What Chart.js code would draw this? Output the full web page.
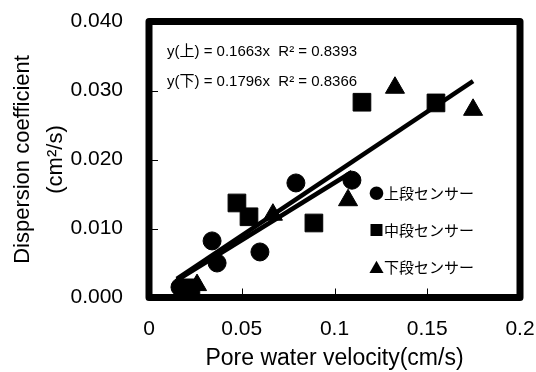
<!DOCTYPE html>
<html>
<head>
<meta charset="utf-8">
<script src="https://cdn.jsdelivr.net/npm/chart.js@4.4.1/dist/chart.umd.min.js"></script>
<style>
  html, body { margin: 0; padding: 0; background: #fff; }
</style>
</head>
<body>
<canvas id="chart" width="536" height="372"></canvas>
<script>
// Dispersion coefficient vs pore water velocity (3 sensor depths)

const seriesLabels = ['上段センサー', '中段センサー', '下段センサー'];
const legendSymbols = ['●', '■', '▲'];

// 上段センサー
const upperVel  = [0.0167, 0.0340, 0.0367, 0.0598, 0.0792, 0.1094];
const upperDisp = [0.0015, 0.0082, 0.0050, 0.0066, 0.0166, 0.0170];
// 中段センサー
const middleVel  = [0.0226, 0.0474, 0.0539, 0.0889, 0.1148, 0.1547];
const middleDisp = [0.0014, 0.0137, 0.0117, 0.0108, 0.0283, 0.0282];
// 下段センサー
const lowerVel  = [0.0259, 0.0668, 0.1073, 0.1326, 0.1747];
const lowerDisp = [0.0018, 0.0120, 0.0141, 0.0304, 0.0272];

// trend lines through origin: y = slope * x
const trendNames  = ['上', '下'];
const trendSlopes = [0.1663, 0.1796];
const trendR2     = [0.8393, 0.8366];
const trendFrom   = [0.015, 0.015];
const trendTo     = [0.1094, 0.1747];

const xTicks = [0, 0.05, 0.1, 0.15, 0.2];
const xTickLabels = ['0', '0.05', '0.1', '0.15', '0.2'];
const yTicks = [0, 0.01, 0.02, 0.03, 0.04];
const yTickLabels = ['0.000', '0.010', '0.020', '0.030', '0.040'];

const LATIN = '"Liberation Sans", Arial, "Noto Sans CJK JP", sans-serif';
const JP = '"Noto Sans CJK JP", "Liberation Sans", sans-serif';

Chart.defaults.color = '#000';

function points(xs, ys) {
    return xs.map((v, i) => ({ x: v, y: ys[i] }));
}

function trendLine(i) {
    return [
        { x: trendFrom[i], y: trendSlopes[i] * trendFrom[i] },
        { x: trendTo[i], y: trendSlopes[i] * trendTo[i] }
    ];
}

// keep label overhang from shrinking the plot area
function noScalePadding(scale) {
    scale.paddingTop = 0;
    scale.paddingBottom = 0;
    scale.paddingLeft = 0;
    scale.paddingRight = 0;
}

// thick frame + inward tick marks
const framePlugin = {
    id: 'frame',
    afterDatasetsDraw(chart) {
        const { ctx, chartArea: a, scales: { x, y } } = chart;
        ctx.save();
        ctx.strokeStyle = '#000';
        ctx.lineWidth = 1;
        ctx.beginPath();
        xTicks.forEach(v => {
            const px = Math.round(x.getPixelForValue(v)) + 0.5;
            ctx.moveTo(px, a.bottom);
            ctx.lineTo(px, a.bottom - 9);
        });
        yTicks.forEach(v => {
            const py = Math.round(y.getPixelForValue(v)) + 0.5;
            ctx.moveTo(a.left, py);
            ctx.lineTo(a.left + 9, py);
        });
        ctx.stroke();
        ctx.lineWidth = 7;
        ctx.lineJoin = 'round';
        ctx.strokeRect(a.left, a.top, a.right - a.left, a.bottom - a.top);
        ctx.restore();
    }
};

// equations and legend drawn inside the plot
const notesPlugin = {
    id: 'notes',
    afterDraw(chart) {
        const { ctx } = chart;
        ctx.save();
        ctx.fillStyle = '#000';
        ctx.textBaseline = 'middle';
        ctx.textAlign = 'left';

        ctx.font = '15px ' + LATIN;
        trendNames.forEach((n, i) => {
            const txt = 'y(' + n + ') = ' + trendSlopes[i] + 'x  R² = ' + trendR2[i];
            ctx.fillText(txt, 167, 52 + i * 30);
        });

        ctx.font = '15px ' + JP;
        seriesLabels.forEach((lab, i) => {
            ctx.fillText(legendSymbols[i] + lab, 369, 193 + i * 37);
        });
        ctx.restore();
    }
};

new Chart(document.getElementById('chart'), {
    type: 'scatter',
    data: {
        datasets: [
            {
                label: seriesLabels[0],
                data: points(upperVel, upperDisp),
                pointStyle: 'circle',
                pointRadius: 9,
                backgroundColor: '#000',
                borderColor: '#000'
            },
            {
                label: seriesLabels[1],
                data: points(middleVel, middleDisp),
                pointStyle: 'rect',
                pointRadius: 12.5,
                backgroundColor: '#000',
                borderColor: '#000'
            },
            {
                label: seriesLabels[2],
                data: points(lowerVel, lowerDisp),
                pointStyle: 'triangle',
                pointRadius: 11,
                backgroundColor: '#000',
                borderColor: '#000'
            },
            {
                type: 'line',
                label: 'y(' + trendNames[0] + ')',
                data: trendLine(0),
                borderColor: '#000',
                borderWidth: 4.5,
                pointRadius: 0,
                fill: false
            },
            {
                type: 'line',
                label: 'y(' + trendNames[1] + ')',
                data: trendLine(1),
                borderColor: '#000',
                borderWidth: 4.5,
                pointRadius: 0,
                fill: false
            }
        ]
    },
    options: {
        responsive: false,
        animation: false,
        layout: {
            padding: { top: 21.5, right: 16, left: 0, bottom: 0 }
        },
        plugins: {
            legend: { display: false },
            tooltip: { enabled: false }
        },
        scales: {
            x: {
                type: 'linear',
                min: 0,
                max: 0.2,
                afterBuildTicks(scale) {
                    scale.ticks = xTicks.map(v => ({ value: v }));
                },
                afterFit(scale) {
                    scale.height = 74.5;
                    noScalePadding(scale);
                },
                grid: { display: false, drawTicks: false },
                border: { display: false },
                ticks: {
                    padding: 19,
                    maxRotation: 0,
                    font: { family: LATIN, size: 21 },
                    callback: (v, i) => xTickLabels[i]
                },
                title: {
                    display: true,
                    text: 'Pore water velocity(cm/s)',
                    font: { family: LATIN, size: 23 },
                    padding: { top: 0, bottom: 0 }
                }
            },
            y: {
                type: 'linear',
                min: 0,
                max: 0.04,
                afterBuildTicks(scale) {
                    scale.ticks = yTicks.map(v => ({ value: v }));
                },
                afterFit(scale) {
                    scale.width = 149;
                    noScalePadding(scale);
                },
                grid: { display: false, drawTicks: false },
                border: { display: false },
                ticks: {
                    padding: 26,
                    font: { family: LATIN, size: 21 },
                    callback: (v, i) => yTickLabels[i]
                },
                title: {
                    display: true,
                    text: ['Dispersion coefficient', '(cm²/s)'],
                    font: { family: LATIN, size: 22, lineHeight: 1.5 },
                    padding: { top: 6, bottom: 0 }
                }
            }
        }
    },
    plugins: [framePlugin, notesPlugin]
});
</script>
</body>
</html>
